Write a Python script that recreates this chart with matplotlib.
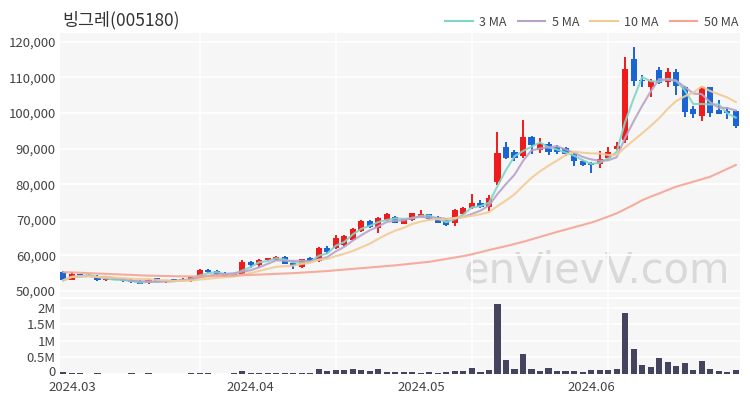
import numpy as np
import pandas as pd
import matplotlib
matplotlib.use("Agg")
from matplotlib import pyplot as plt
from matplotlib.lines import Line2D
from matplotlib.ticker import FuncFormatter
from matplotlib.transforms import ScaledTranslation

plt.rcParams['font.family'] = ['Noto Sans CJK KR', 'DejaVu Sans']

title = "빙그레(005180)"

# 일봉 (2024-03-04 ~ 2024-06-28), 그림에서 읽은 값
open_ = [55300, 53200, 54700, 54600, 54300, 53000, 53400, 53500, 53200, 52900,
         52200, 53500, 52500, 53300, 52900, 53000, 53900, 56000, 55600, 55000,
         54300, 54700, 58200, 57200, 58600, 58800, 59500, 57900, 56700, 59300,
         58300, 62200, 62000, 62900, 64400, 66900, 69700, 67600, 70000, 70900,
         68900, 70000, 70900, 71500, 70900, 69900, 69000, 71500, 73300, 74800,
         73700, 80500, 90500, 89000, 87800, 93300, 89700, 91300, 90500, 90200,
         88600, 86600, 86000, 85600, 87300, 89800, 92300, 115300, 109400, 107200,
         112100, 108800, 111600, 107400, 101100, 99200, 107200, 100800, 100700, 100600]
high = [55500, 55400, 54900, 54800, 54400, 53500, 53500, 53600, 53300, 53000,
        53400, 53700, 53000, 53400, 53500, 54000, 56300, 56200, 55800, 55200,
        54900, 58600, 58400, 59000, 59400, 59800, 59700, 58200, 59100, 59500,
        62400, 62500, 65600, 65800, 67600, 70000, 70000, 70800, 71800, 71100,
        70300, 72000, 72800, 71700, 71100, 70100, 72900, 73500, 77200, 75500,
        77000, 94600, 92000, 89600, 98000, 93600, 93100, 92000, 91000, 90500,
        88800, 86800, 86300, 89400, 90500, 92000, 115800, 118700, 110700, 109600,
        112900, 112600, 112400, 107600, 102100, 107600, 107400, 103700, 101800, 100800]
low = [52800, 53000, 54300, 54200, 52800, 52800, 53000, 52600, 52300, 51900,
       52000, 52500, 52200, 52800, 52800, 52500, 53700, 55000, 54600, 54200,
       54100, 54500, 56500, 56600, 58400, 58600, 57500, 56300, 56500, 58300,
       58000, 60400, 61800, 62700, 64200, 66700, 67600, 66400, 69800, 69000,
       68700, 69800, 70800, 70000, 69000, 68300, 68300, 71300, 73100, 73400,
       72500, 79800, 87000, 86400, 87500, 88400, 88700, 88200, 88600, 88000,
       85200, 85000, 83100, 84500, 87000, 89500, 91500, 107600, 107400, 104600,
       108200, 107400, 105100, 98800, 98500, 97800, 98800, 99600, 98400, 95900]
close = [53000, 54900, 54400, 54300, 53000, 53300, 53200, 52700, 52400, 52000,
         53200, 52600, 52900, 52900, 53300, 53800, 56000, 55200, 54700, 54300,
         54700, 58200, 57200, 58800, 59200, 59600, 57700, 56900, 59000, 58500,
         62200, 60900, 65000, 65400, 67300, 69700, 67900, 70500, 71500, 69200,
         70100, 71800, 71500, 70200, 69200, 68600, 72700, 73200, 74600, 73700,
         76000, 88700, 87300, 87500, 93200, 90900, 91200, 89000, 89100, 88600,
         86400, 85300, 85500, 87200, 89100, 90800, 112500, 108900, 108900, 109100,
         108400, 111400, 107500, 100400, 99800, 107400, 100100, 99800, 100000, 96300]
volume = [60000, 40000, 20000, 15000, 20000, 15000, 10000, 15000, 20000, 15000,
          20000, 15000, 10000, 15000, 15000, 30000, 40000, 20000, 15000, 15000,
          20000, 80000, 40000, 30000, 30000, 30000, 30000, 25000, 35000, 30000,
          150000, 80000, 110000, 110000, 150000, 130000, 80000, 150000, 50000, 50000,
          50000, 60000, 40000, 50000, 40000, 50000, 100000, 80000, 170000, 50000,
          110000, 2100000, 420000, 140000, 590000, 150000, 100000, 180000, 100000, 100000,
          100000, 60000, 130000, 130000, 130000, 150000, 1840000, 740000, 260000, 210000,
          490000, 350000, 240000, 330000, 120000, 380000, 160000, 90000, 60000, 110000]
# 50일선은 3월 이전 데이터가 필요해서 그림에서 직접 읽음
ma50 = [55300, 55200, 55100, 55000, 54900, 54800, 54700, 54600, 54500, 54400,
        54300, 54250, 54200, 54150, 54100, 54100, 54100, 54150, 54200, 54250,
        54300, 54400, 54500, 54600, 54700, 54800, 54900, 55000, 55150, 55300,
        55450, 55600, 55800, 56000, 56200, 56400, 56600, 56800, 57000, 57200,
        57450, 57700, 57950, 58200, 58600, 59000, 59400, 59800, 60300, 60900,
        61500, 62050, 62600, 63200, 63800, 64500, 65200, 65900, 66600, 67250,
        67900, 68550, 69200, 70000, 70900, 71800, 73000, 74200, 75500, 76500,
        77400, 78400, 79300, 80000, 80700, 81400, 82100, 83200, 84300, 85400]

tick_pos = [1, 22, 42, 62]
tick_labels = ["2024.03", "2024.04", "2024.05", "2024.06"]

df = pd.DataFrame({"open": open_, "high": high, "low": low, "close": close, "volume": volume})
x = np.arange(len(df))
ma = {
    "3 MA": df.close.rolling(3, min_periods=1).mean(),
    "5 MA": df.close.rolling(5, min_periods=1).mean(),
    "10 MA": df.close.rolling(10, min_periods=1).mean(),
    "50 MA": pd.Series(ma50),
}
ma_colors = {"3 MA": "#7fd6c8", "5 MA": "#b7a3c9", "10 MA": "#f2cb93", "50 MA": "#f5a493"}

up_c = "#ee1c1c"
down_c = "#1b64d3"
bg = "#f6f6f7"

fig = plt.figure(figsize=(7.5, 4), dpi=100)
ax = fig.add_axes([0.08, 0.2575, 0.9067, 0.66])
axv = fig.add_axes([0.08, 0.065, 0.9067, 0.1875], sharex=ax)

for a in (ax, axv):
    a.set_facecolor(bg)
    for s in a.spines.values():
        s.set_visible(False)
    a.set_xticks(np.arange(16, 81, 16), minor=True)
    a.grid(True, which='major', axis='y', color='white', lw=1.2)
    a.grid(True, which='minor', axis='x', color='white', lw=1.2)
    a.tick_params(length=0, labelsize=9.5, labelcolor='#444444', pad=3)
    a.tick_params(which='minor', length=0)
    a.set_axisbelow(True)

# 워터마크
ax.text(0.985, 0.02, "enVievV.com", transform=ax.transAxes, ha='right', va='bottom',
        fontsize=30, color='#d9d9d9', family='DejaVu Sans', zorder=0)

up = df.close >= df.open
colors = np.where(up, up_c, down_c)
ax.vlines(x, df.low, df.high, colors=colors, lw=1.4, zorder=2)
body_lo = np.minimum(df.open, df.close)
body_h = np.maximum((df.close - df.open).abs(), 250)
ax.bar(x, body_h, bottom=body_lo, width=0.72, color=colors, zorder=3)

for name, s in ma.items():
    ax.plot(x, s, color=ma_colors[name], lw=1.5, alpha=0.9, zorder=4, label=name)

ax.set_ylim(48300, 122500)
ax.set_yticks(np.arange(50000, 120001, 10000))
ax.yaxis.set_major_formatter(FuncFormatter(lambda v, p: f"{int(v):,}"))
ax.set_xlim(-0.4, 79.5)
plt.setp(ax.get_xticklabels(), visible=False)

axv.bar(x, df.volume, width=0.72, color="#44445f", zorder=3)
axv.set_ylim(0, 2.26e6)
axv.set_yticks([0, 0.5e6, 1e6, 1.5e6, 2e6])
axv.set_yticklabels(["0", "0.5M", "1M", "1.5M", "2M"])
axv.set_xticks(tick_pos)
axv.set_xticklabels(tick_labels)
axv.tick_params(axis='x', pad=5)
# "0" 라벨이 날짜 라벨과 겹치지 않게 살짝 위로
zero_lbl = axv.get_yticklabels()[0]
zero_lbl.set_transform(zero_lbl.get_transform() + ScaledTranslation(0, 2 / 72, fig.dpi_scale_trans))

fig.text(62 / 750, 1 - 20 / 400, title, fontsize=12.5, color='#333333', va='center', ha='left')

handles = [Line2D([0], [0], color=ma_colors[n], lw=1.5) for n in ma]
fig.legend(handles, list(ma.keys()), loc='center right', bbox_to_anchor=(0.984, 1 - 22 / 400),
           ncol=4, frameon=False, fontsize=9, handlelength=2.2, columnspacing=0.9,
           handletextpad=0.5, labelcolor='#444444', borderaxespad=0, borderpad=0)

fig.savefig("out.png", dpi=100)
